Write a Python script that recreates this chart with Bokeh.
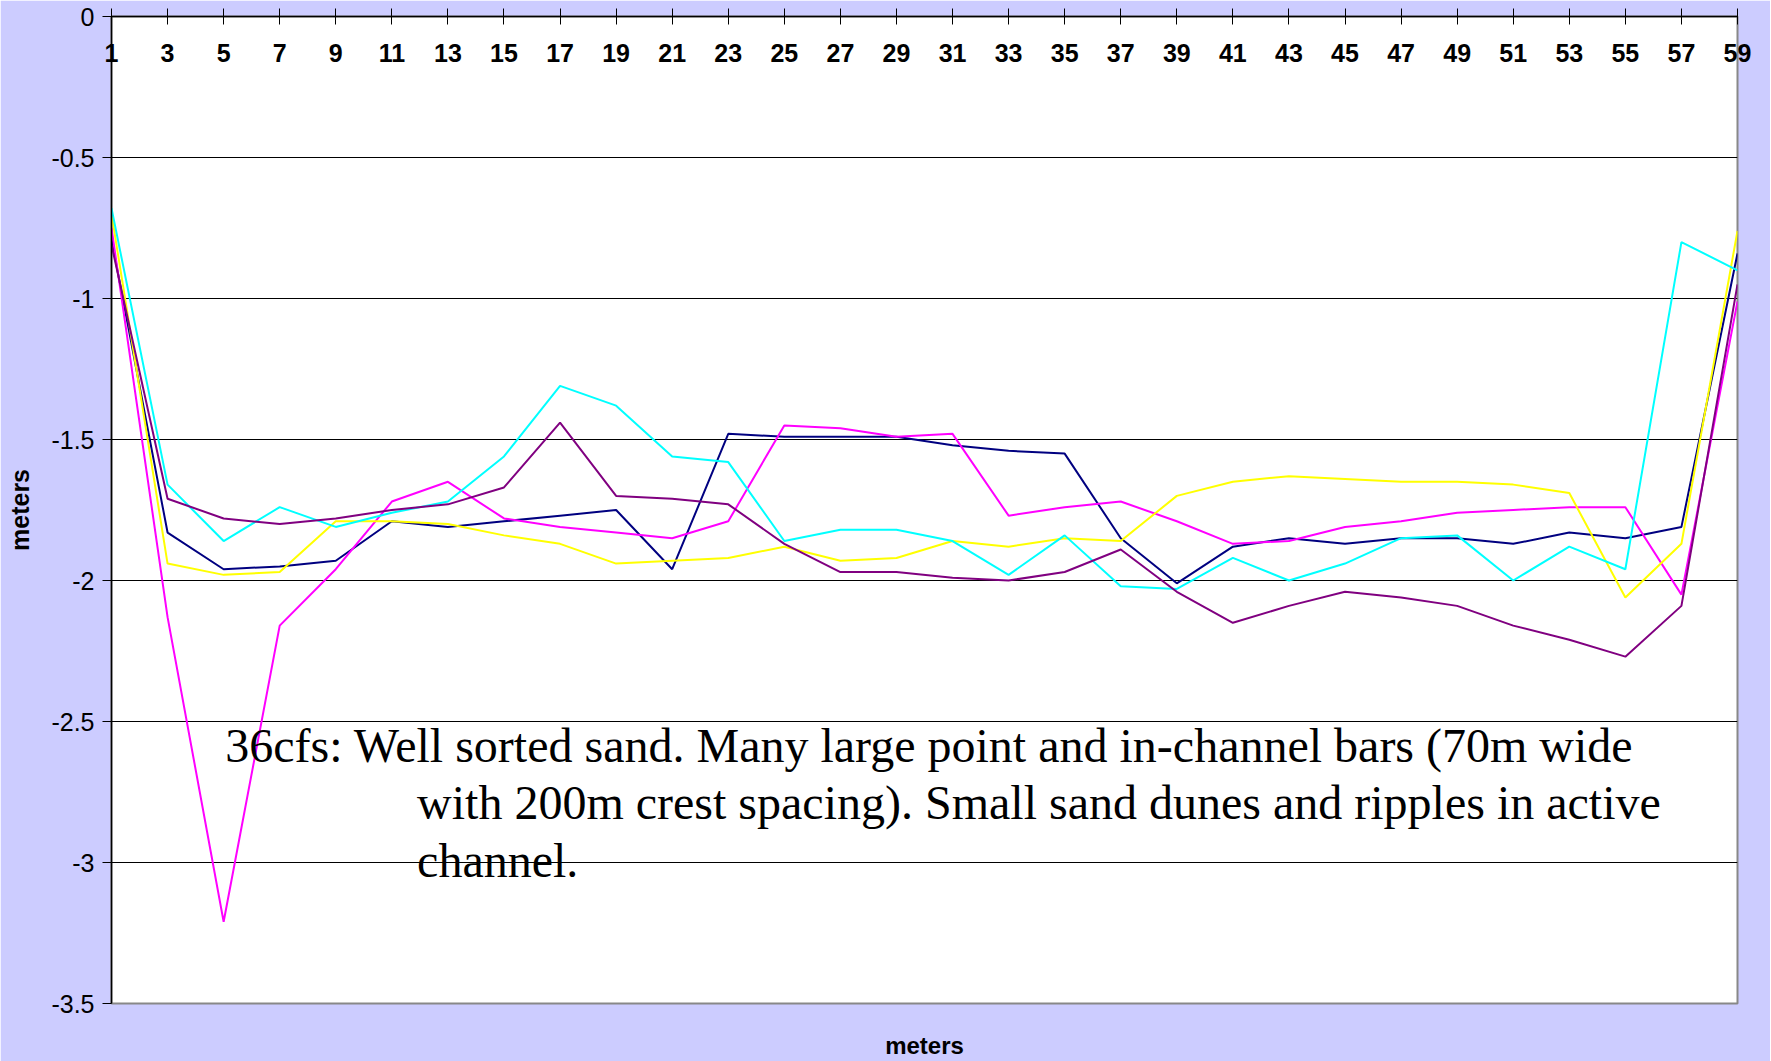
from bokeh.plotting import figure
from bokeh.models import Range1d, LinearAxis, FixedTicker, CustomJSTickFormatter, Label
from bokeh.embed import file_html
from bokeh.resources import INLINE

# ---- data ----
x_vals = [1, 3, 5, 7, 9, 11, 13, 15, 17, 19, 21, 23, 25, 27, 29,
          31, 33, 35, 37, 39, 41, 43, 45, 47, 49, 51, 53, 55, 57, 59]

navy_vals = [-0.79, -1.83, -1.96, -1.95, -1.93, -1.79, -1.81, -1.79, -1.77, -1.75,
             -1.96, -1.48, -1.49, -1.49, -1.49, -1.52, -1.54, -1.55, -1.85, -2.01,
             -1.88, -1.85, -1.87, -1.85, -1.85, -1.87, -1.83, -1.85, -1.81, -0.84]
magenta_vals = [-0.75, -2.13, -3.21, -2.16, -1.96, -1.72, -1.65, -1.78, -1.81, -1.83,
                -1.85, -1.79, -1.45, -1.46, -1.49, -1.48, -1.77, -1.74, -1.72, -1.79,
                -1.87, -1.86, -1.81, -1.79, -1.76, -1.75, -1.74, -1.74, -2.05, -1.01]
yellow_vals = [-0.70, -1.94, -1.98, -1.97, -1.79, -1.79, -1.80, -1.84, -1.87, -1.94,
               -1.93, -1.92, -1.88, -1.93, -1.92, -1.86, -1.88, -1.85, -1.86, -1.70,
               -1.65, -1.63, -1.64, -1.65, -1.65, -1.66, -1.69, -2.06, -1.87, -0.76]
cyan_vals = [-0.68, -1.66, -1.86, -1.74, -1.81, -1.76, -1.72, -1.56, -1.31, -1.38,
             -1.56, -1.58, -1.86, -1.82, -1.82, -1.86, -1.98, -1.84, -2.02, -2.03,
             -1.92, -2.00, -1.94, -1.85, -1.84, -2.00, -1.88, -1.96, -0.80, -0.90]
purple_vals = [-0.81, -1.71, -1.78, -1.80, -1.78, -1.75, -1.73, -1.67, -1.44, -1.70,
               -1.71, -1.73, -1.87, -1.97, -1.97, -1.99, -2.00, -1.97, -1.89, -2.04,
               -2.15, -2.09, -2.04, -2.06, -2.09, -2.16, -2.21, -2.27, -2.09, -0.95]

y_ticks = [0, -0.5, -1, -1.5, -2, -2.5, -3, -3.5]

note_lines = ["36cfs: Well sorted sand. Many large point and in-channel bars (70m wide",
              "with 200m crest spacing). Small sand dunes and ripples in active",
              "channel."]
axis_title = "meters"

series = [(navy_vals, "#000080"), (magenta_vals, "#FF00FF"), (yellow_vals, "#FFFF00"),
          (cyan_vals, "#00FFFF"), (purple_vals, "#800080")]

# ---- figure ----
p = figure(frame_width=1626, frame_height=987,
           x_range=Range1d(1, 59), y_range=Range1d(-3.5, 0),
           x_axis_type=None, output_backend="svg", toolbar_location=None,
           min_border_left=111, min_border_right=33, min_border_top=16, min_border_bottom=57)
p.border_fill_color = "#CCCCFF"
p.background_fill_color = "white"
p.outline_line_color = "#888888"
p.outline_line_width = 2

# x axis along y=0 (top of frame); labels hang below the line
xa = LinearAxis(ticker=FixedTicker(ticks=x_vals))
xa.major_label_text_font = "Liberation Sans"
xa.major_label_text_font_style = "bold"
xa.major_label_text_font_size = "25px"
xa.major_label_text_color = "black"
xa.major_tick_in = 8
xa.major_tick_out = 8
xa.minor_tick_in = 0
xa.minor_tick_out = 0
xa.major_label_standoff = -53
xa.axis_line_color = "black"
xa.axis_line_width = 1.5
p.add_layout(xa, "above")

# bottom axis: title only
xb = LinearAxis(ticker=FixedTicker(ticks=[]))
xb.axis_line_color = None
xb.major_tick_in = 0
xb.major_tick_out = 0
xb.minor_tick_in = 0
xb.minor_tick_out = 0
xb.major_label_standoff = 0
xb.axis_label = axis_title
xb.axis_label_text_font = "Liberation Sans"
xb.axis_label_text_font_style = "bold"
xb.axis_label_text_font_size = "24px"
xb.axis_label_text_color = "black"
xb.axis_label_standoff = 28
p.add_layout(xb, "below")

ya = p.yaxis[0]
ya.ticker = FixedTicker(ticks=y_ticks)
ya.formatter = CustomJSTickFormatter(code="return tick.toString();")
ya.major_label_text_font = "Liberation Sans"
ya.major_label_text_font_size = "25px"
ya.major_label_text_color = "black"
ya.major_tick_in = 0
ya.major_tick_out = 9
ya.minor_tick_in = 0
ya.minor_tick_out = 0
ya.major_label_standoff = 8
ya.axis_line_color = "black"
ya.axis_line_width = 1.5
ya.axis_label = axis_title
ya.axis_label_text_font = "Liberation Sans"
ya.axis_label_text_font_style = "bold"
ya.axis_label_text_font_size = "25px"
ya.axis_label_text_color = "black"
ya.axis_label_standoff = 14

p.ygrid.grid_line_color = "black"
p.ygrid.grid_line_alpha = 1.0
p.ygrid.grid_line_width = 1

for vals, col in series:
    p.line(x_vals, vals, line_color=col, line_width=2)

# note text
note_x = [5.06, 11.9, 11.9]
note_y = [-2.585, -2.788, -2.993]
for t, lx, ly in zip(note_lines, note_x, note_y):
    p.add_layout(Label(x=lx, y=ly, text=t, text_font="Liberation Serif",
                       text_font_size="48px", text_color="black",
                       text_baseline="alphabetic", text_align="left"))

open("out.html", "w").write(file_html(p, INLINE))
